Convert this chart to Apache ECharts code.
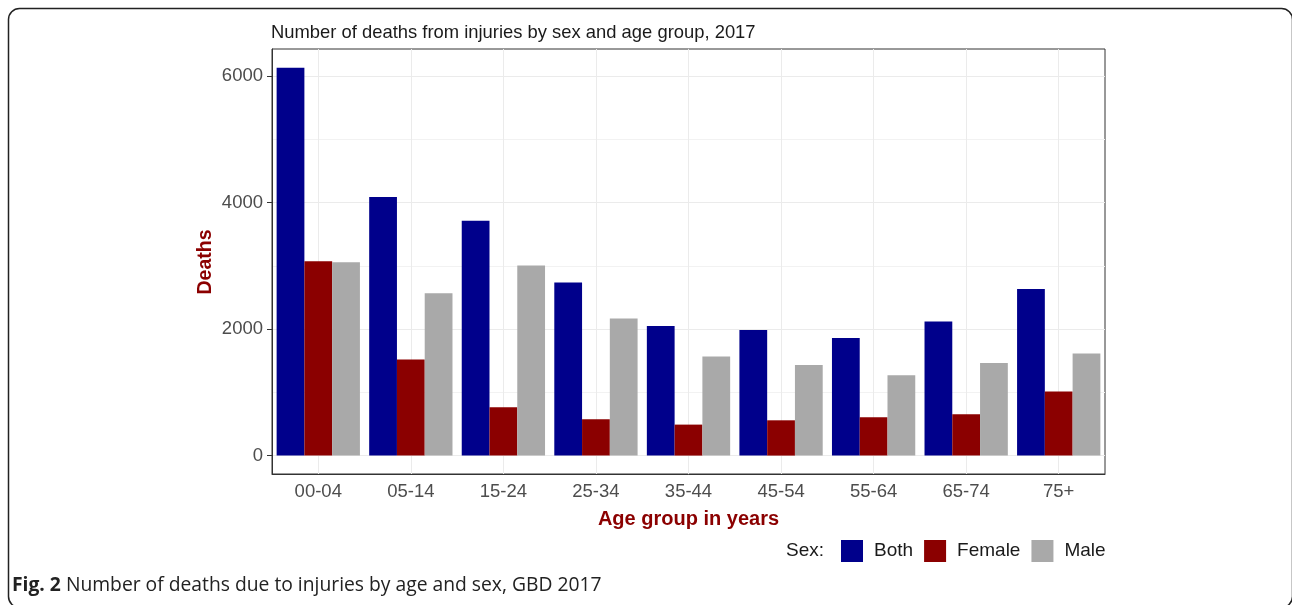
<!DOCTYPE html>
<html>
<head>
<meta charset="utf-8">
<script src="https://cdn.jsdelivr.net/npm/echarts@6/dist/echarts.min.js"></script>
<style>
  html, body { margin: 0; padding: 0; background: #fff; }
  #chart { width: 1292px; height: 605px; }
</style>
</head>
<body>
<div id="chart"></div>
<script>
// data
const ageGroups = ['00-04', '05-14', '15-24', '25-34', '35-44', '45-54', '55-64', '65-74', '75+'];
const bothDeaths = [6133, 4087, 3712, 2737, 2051, 1987, 1861, 2120, 2636];
const femaleDeaths = [3074, 1519, 764, 574, 490, 558, 606, 653, 1013];
const maleDeaths = [3058, 2568, 3006, 2167, 1566, 1434, 1270, 1466, 1614];
const majorTicks = [0, 2000, 4000, 6000];
const minorTicks = [1000, 3000, 5000];

const font = '"Liberation Sans", Arial, sans-serif';
const yMin = -291, yMax = 6429;

const chart = echarts.init(document.getElementById('chart'));

const option = {
  backgroundColor: '#fff',
  animation: false,
  title: {
    text: 'Number of deaths from injuries by sex and age group, 2017',
    left: 266,
    top: 19,
    textStyle: { fontFamily: font, fontSize: 18.4, fontWeight: 'normal', color: '#1a1a1a' }
  },
  legend: {
    left: 836,
    top: 535,
    itemWidth: 22,
    itemHeight: 22,
    itemGap: 11,
    icon: 'rect',
    textStyle: { fontFamily: font, fontSize: 19, color: '#1a1a1a', padding: [0, 0, 0, 6] },
    data: ['Both', 'Female', 'Male']
  },
  grid: { left: 272, right: 187, top: 49, bottom: 131, show: true, borderColor: '#333', borderWidth: 1 },
  xAxis: {
    type: 'category',
    data: ageGroups,
    name: 'Age group in years',
    nameLocation: 'middle',
    nameGap: 35,
    nameTextStyle: { fontFamily: font, fontSize: 20, fontWeight: 'bold', color: '#8B0000' },
    axisLine: { show: true, onZero: false, lineStyle: { color: '#333' } },
    axisTick: { alignWithLabel: true, length: 5, lineStyle: { color: '#333' } },
    axisLabel: { fontFamily: font, fontSize: 18.5, color: '#4d4d4d', margin: 8 },
    splitLine: { show: true, alignWithLabel: true, lineStyle: { color: '#ebebeb', width: 1 } }
  },
  yAxis: [{
    type: 'value',
    min: yMin,
    max: yMax,
    axisLine: { show: true, onZero: false, lineStyle: { color: '#333' } },
    axisTick: { show: true, length: 5, customValues: majorTicks, lineStyle: { color: '#333' } },
    axisLabel: {
      fontFamily: font, fontSize: 18.5, color: '#4d4d4d', margin: 9, customValues: majorTicks,
      formatter: (v) => String(v)
    },
    splitLine: { show: true, lineStyle: { color: '#ebebeb', width: 1 } }
  }, {
    type: 'value',
    min: yMin,
    max: yMax,
    position: 'left',
    axisLine: { show: false },
    axisTick: { show: false, customValues: minorTicks },
    axisLabel: { show: false, customValues: minorTicks },
    splitLine: { show: true, lineStyle: { color: '#f2f2f2', width: 1 } }
  }],
  series: [
    { name: 'Both', type: 'bar', data: bothDeaths, itemStyle: { color: '#00008B' }, barGap: '0%', barCategoryGap: '10%' },
    { name: 'Female', type: 'bar', data: femaleDeaths, itemStyle: { color: '#8B0000' } },
    { name: 'Male', type: 'bar', data: maleDeaths, itemStyle: { color: '#A9A9A9' } }
  ],
  graphic: [
    {
      // y axis title
      type: 'text',
      x: 206,
      y: 262,
      rotation: Math.PI / 2,
      style: {
        text: 'Deaths', font: 'bold 19.5px ' + font, fill: '#8B0000',
        align: 'center', verticalAlign: 'middle'
      }
    },
    {
      type: 'text',
      left: 786,
      top: 541,
      style: { text: 'Sex:', font: '19px ' + font, fill: '#1a1a1a' }
    },
    {
      type: 'text',
      left: 12,
      top: 576,
      style: {
        text: '{b|Fig. 2} Number of deaths due to injuries by age and sex, GBD 2017',
        font: '19.3px "Open Sans", sans-serif',
        fill: '#222',
        rich: { b: { font: 'bold 19.3px "Open Sans", sans-serif', fill: '#222' } }
      }
    },
    {
      type: 'rect',
      silent: true,
      shape: { x: 8.5, y: 8.5, width: 1284, height: 599, r: 11 },
      style: { fill: 'none', stroke: '#222', lineWidth: 1.5 }
    }
  ]
};

chart.setOption(option);
</script>
</body>
</html>
